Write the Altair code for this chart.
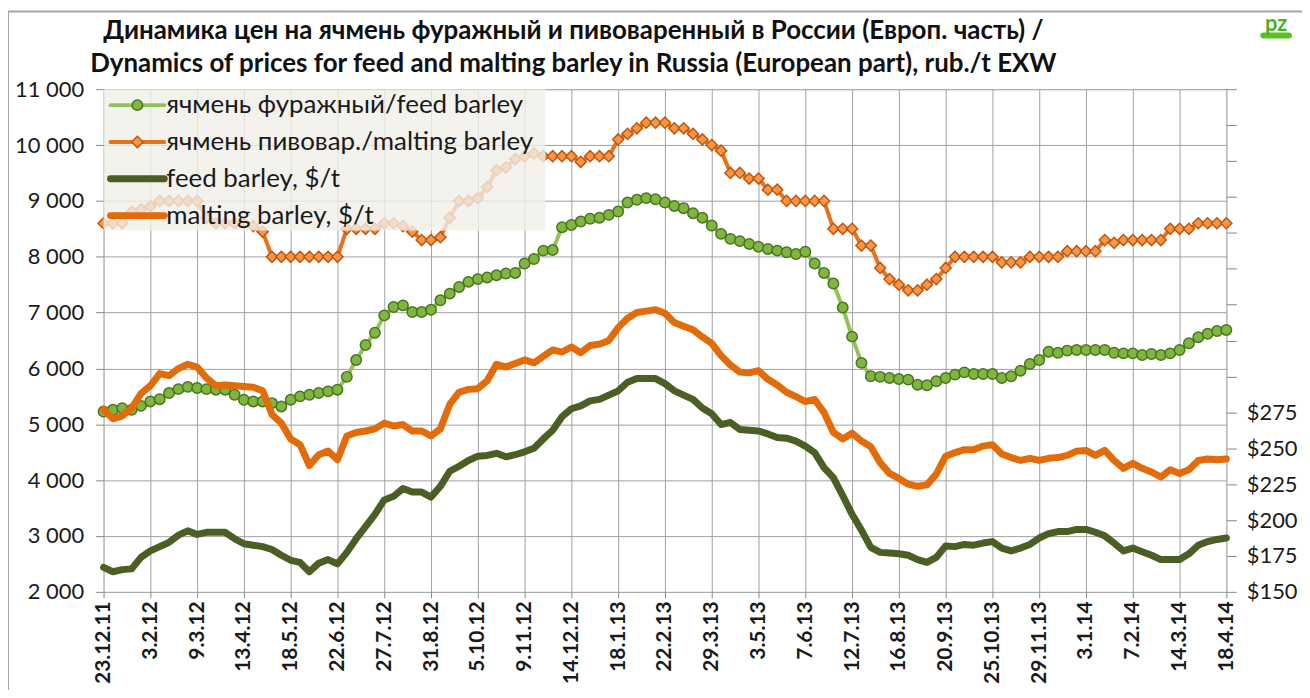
import altair as alt
import pandas as pd

# ---------------- data ----------------
tick_labels = ["23.12.11", "3.2.12", "9.3.12", "13.4.12", "18.5.12", "22.6.12",
               "27.7.12", "31.8.12", "5.10.12", "9.11.12", "14.12.12", "18.1.13",
               "22.2.13", "29.3.13", "3.5.13", "7.6.13", "12.7.13", "16.8.13",
               "20.9.13", "25.10.13", "29.11.13", "3.1.14", "7.2.14", "14.3.14",
               "18.4.14"]

feed_rub = [5230, 5260, 5290, 5260, 5330, 5410, 5450, 5560, 5630, 5670,
            5650, 5630, 5620, 5620, 5530, 5440, 5410, 5410, 5380, 5320,
            5440, 5500, 5530, 5560, 5590, 5620, 5850, 6150, 6420, 6640,
            6950, 7100, 7130, 7010, 7010, 7050, 7220, 7340, 7460, 7550,
            7600, 7630, 7670, 7700, 7710, 7880, 7960, 8110, 8120, 8530,
            8570, 8630, 8680, 8700, 8750, 8810, 8970, 9020, 9050, 9030,
            8970, 8910, 8870, 8780, 8700, 8560, 8410, 8320, 8280, 8230,
            8180, 8140, 8110, 8080, 8050, 8090, 7880, 7710, 7520, 7090,
            6570, 6100, 5860, 5850, 5830, 5810, 5800, 5710, 5700, 5770,
            5830, 5890, 5930, 5900, 5900, 5900, 5830, 5860, 5960, 6080,
            6150, 6300, 6280, 6320, 6330, 6330, 6330, 6330, 6280, 6270,
            6270, 6240, 6260, 6240, 6270, 6330, 6450, 6560, 6620, 6670,
            6690]

malting_rub = [8600, 8600, 8600, 8800, 8850, 8900, 9000, 9000, 9000, 9000,
               9000, 8700, 8600, 8600, 8600, 8600, 8550, 8450, 8000, 8000,
               8000, 8000, 8000, 8000, 8000, 8000, 8500, 8500, 8500, 8500,
               8600, 8600, 8550, 8450, 8300, 8300, 8350, 8700, 9000, 9000,
               9050, 9250, 9550, 9600, 9750, 9800, 9850, 9800, 9800, 9800,
               9800, 9700, 9800, 9800, 9800, 10100, 10200, 10300, 10400, 10400,
               10400, 10300, 10300, 10200, 10100, 10000, 9900, 9500, 9500, 9400,
               9400, 9200, 9200, 9000, 9000, 9000, 9000, 9000, 8500, 8500,
               8500, 8200, 8200, 7800, 7600, 7500, 7400, 7400, 7500, 7600,
               7800, 8000, 8000, 8000, 8000, 8000, 7900, 7900, 7900, 8000,
               8000, 8000, 8000, 8100, 8100, 8100, 8100, 8300, 8250, 8300,
               8300, 8300, 8300, 8300, 8500, 8500, 8500, 8600, 8600, 8600,
               8600]

feed_usd = [167, 164, 165.5, 166, 174, 178.5, 181.5, 184.5, 189.5, 192.5,
            190, 191.5, 191.5, 191.5, 187, 183.5, 182.5, 181.5, 179.5, 175.5,
            172, 170.5, 164, 170, 172.5, 169.5, 177.5, 187, 195.5, 204,
            214, 216.5, 222, 219.5, 219.5, 216, 223.5, 234, 237.5, 241.5,
            244.5, 245, 246.5, 244, 245.5, 247.5, 250, 256.5, 262.5, 272,
            277.5, 279.5, 283, 284, 287, 290, 296, 298.5, 298.5, 298.5,
            295, 290, 287, 284, 278, 274, 266.5, 268, 263, 262.5,
            262, 260, 257.5, 257, 255, 251.5, 247, 236.5, 229.5, 217,
            204, 193, 181, 177.5, 177, 176.5, 175.5, 172.5, 170.5, 174,
            182, 181.5, 183, 182.5, 184, 185, 180.5, 178.5, 180.5, 183,
            187.5, 190.5, 192, 192, 193.5, 193.5, 191.5, 189, 184, 178.5,
            180.5, 178, 175.5, 172.5, 172.5, 172.5, 176.5, 182.5, 185, 186.5,
            187.5]

malting_usd = [277, 270.5, 272.5, 278, 288, 293.5, 302, 300.5, 305.5, 308.5,
               306.5, 299, 293.5, 294, 293.5, 293, 292.5, 290, 273.5, 267.5,
               256.5, 252.5, 238, 245.5, 248, 242, 258.5, 261, 262, 263.5,
               267.5, 265.5, 266.5, 262, 262, 258.5, 263.5, 280.5, 289, 291,
               291.5, 297, 308.5, 306.5, 309, 311.5, 309.5, 314, 318.5, 317,
               320.5, 316.5, 321.5, 322.5, 325, 334, 340.5, 344.5, 345.5, 346.5,
               344, 337.5, 335, 332.5, 327.5, 323, 314.5, 308, 303, 302.5,
               304, 298, 294, 289, 286, 282.5, 284, 275, 261, 256.5,
               260.5, 255, 251, 240, 232.5, 229, 225, 223.5, 224.5, 232,
               244.5, 247, 249, 249, 251.5, 252.5, 246, 243.5, 241.5, 243,
               241.5, 243, 243.5, 245, 248, 248.5, 245, 248.5, 241.5, 236,
               239.5, 236, 233.5, 230, 235, 232.5, 235, 241.5, 242.5, 242,
               242.5]

legend_labels = ["ячмень фуражный/feed barley",
                 "ячмень пивовар./malting barley",
                 "feed barley, $/t",
                 "malting barley, $/t"]

title_lines = ["Динамика цен на ячмень фуражный и пивоваренный в России (Европ. часть) /",
               "Dynamics of prices for feed and malting barley in Russia (European part), rub./t EXW"]

week = list(range(len(feed_rub)))
df = pd.DataFrame({"week": week, "feed_rub": feed_rub, "malting_rub": malting_rub,
                   "feed_usd": feed_usd, "malting_usd": malting_usd})
one = pd.DataFrame({"a": [0]})

# ---------------- style ----------------
W, H = 1128, 505
FONT = "Lato"
GRID = "#a0a0a0"
TXT = "#1a1a1a"
C_FEED_LINE = "#92c35a"
C_FEED_FILL = "#80b640"
C_FEED_STROKE = "#4a7520"
C_MALT_LINE = "#e8711a"
C_MALT_FILL = "#f79646"
C_MALT_STROKE = "#c0560e"
C_FEED_USD = "#4b5e24"
C_MALT_USD = "#e26b0a"

n_last = len(feed_rub) - 1
x_scale = alt.Scale(domain=[0, n_last], nice=False, zero=False)
label_js = "[" + ",".join("'%s'" % s for s in tick_labels) + "][round(datum.value / 5)]"

x_axis = alt.Axis(values=list(range(0, n_last + 1, 5)), labelExpr=label_js, labelAngle=-90,
                  labelFontSize=21, labelFontWeight="bold", labelFont=FONT, labelColor=TXT,
                  grid=True, gridColor=GRID, gridWidth=1, tickSize=6, tickColor="#888888",
                  domain=False, title=None, labelPadding=3, labelOverlap=False, labelFlush=False)
x_enc = alt.X("week:Q", scale=x_scale, axis=x_axis)

rub_scale = alt.Scale(domain=[2000, 11000], nice=False, zero=False)
usd_scale = alt.Scale(domain=[150, 500], nice=False, zero=False)

left_axis = alt.Axis(values=list(range(2000, 11001, 1000)),
                     labelExpr="replace(format(datum.value, ','), ',', ' ')",
                     labelFontSize=22, labelFont=FONT, labelColor=TXT, grid=True,
                     gridColor=GRID, gridWidth=1, tickSize=8, tickColor="#888888",
                     domain=False, title=None, labelPadding=12)
right_axis = alt.Axis(orient="right", values=list(range(150, 501, 25)),
                      labelExpr="datum.value <= 275 ? '$' + datum.value : ''",
                      labelFontSize=22, labelFont=FONT, labelColor=TXT, grid=False,
                      tickSize=10, tickColor="#888888", domain=False,
                      title=None, labelPadding=10)

base = alt.Chart(df)

feed_line = base.mark_line(
    color=C_FEED_LINE, strokeWidth=4, strokeJoin="round",
    point=alt.OverlayMarkDef(shape="circle", size=110, filled=True, fill=C_FEED_FILL,
                             stroke=C_FEED_STROKE, strokeWidth=1.5, opacity=1)
).encode(x=x_enc, y=alt.Y("feed_rub:Q", scale=rub_scale, axis=left_axis))

malt_line = base.mark_line(
    color=C_MALT_LINE, strokeWidth=4, strokeJoin="round",
    point=alt.OverlayMarkDef(shape="diamond", size=125, filled=True, fill=C_MALT_FILL,
                             stroke=C_MALT_STROKE, strokeWidth=1.5, opacity=1)
).encode(x=x_enc, y=alt.Y("malting_rub:Q", scale=rub_scale, axis=None))

feed_usd_line = base.mark_line(
    color=C_FEED_USD, strokeWidth=7, strokeJoin="round", strokeCap="round"
).encode(x=x_enc, y=alt.Y("feed_usd:Q", scale=usd_scale, axis=right_axis))

malt_usd_line = base.mark_line(
    color=C_MALT_USD, strokeWidth=7, strokeJoin="round", strokeCap="round"
).encode(x=x_enc, y=alt.Y("malting_usd:Q", scale=usd_scale, axis=None))

# ---------------- frame, legend, title, logo ----------------
frame = alt.Chart(one).mark_rect(fillOpacity=0, fill="white", stroke="#a6a6a6", strokeWidth=2).encode(
    x=alt.value(-96), x2=alt.value(1260), y=alt.value(-78), y2=alt.value(660))

legend_box = alt.Chart(one).mark_rect(fill="#f0efe9", opacity=0.8).encode(
    x=alt.value(0), x2=alt.value(444), y=alt.value(0), y2=alt.value(142))

ly = [16, 53, 90, 127]
leg_layers = []
leg_layers.append(alt.Chart(one).mark_rule(color=C_FEED_LINE, strokeWidth=4, strokeCap="round").encode(
    x=alt.value(7), x2=alt.value(61), y=alt.value(ly[0])))
leg_layers.append(alt.Chart(one).mark_point(shape="circle", size=110, filled=True, fill=C_FEED_FILL,
                                            stroke=C_FEED_STROKE, strokeWidth=1.5, opacity=1).encode(
    x=alt.value(34), y=alt.value(ly[0])))
leg_layers.append(alt.Chart(one).mark_rule(color=C_MALT_LINE, strokeWidth=4, strokeCap="round").encode(
    x=alt.value(7), x2=alt.value(61), y=alt.value(ly[1])))
leg_layers.append(alt.Chart(one).mark_point(shape="diamond", size=130, filled=True, fill=C_MALT_FILL,
                                            stroke=C_MALT_STROKE, strokeWidth=1.5, opacity=1).encode(
    x=alt.value(34), y=alt.value(ly[1])))
leg_layers.append(alt.Chart(one).mark_rule(color=C_FEED_USD, strokeWidth=7, strokeCap="round").encode(
    x=alt.value(7), x2=alt.value(61), y=alt.value(ly[2])))
leg_layers.append(alt.Chart(one).mark_rule(color=C_MALT_USD, strokeWidth=7, strokeCap="round").encode(
    x=alt.value(7), x2=alt.value(61), y=alt.value(ly[3])))
for lab, yy in zip(legend_labels, ly):
    leg_layers.append(alt.Chart(one).mark_text(align="left", baseline="middle", fontSize=26,
                                               font=FONT, color=TXT).encode(
        x=alt.value(63), y=alt.value(yy), text=alt.value(lab)))

title_layers = []
for line, yy in zip(title_lines, [-50, -17]):
    title_layers.append(alt.Chart(one).mark_text(align="center", baseline="alphabetic", fontSize=26,
                                                 fontWeight="bold", font=FONT, color="#111111").encode(
        x=alt.value(472), y=alt.value(yy), text=alt.value(line)))

logo_box = alt.Chart(one).mark_rect(fill="#5cbf24", cornerRadius=3).encode(
    x=alt.value(1162), x2=alt.value(1194), y=alt.value(-57), y2=alt.value(-51))
logo_text = alt.Chart(one).mark_text(align="center", baseline="alphabetic", fontSize=22,
                                     fontWeight="bold", font=FONT, color="#4caf1f").encode(
    x=alt.value(1178), y=alt.value(-58), text=alt.value("pz"))

chart = alt.layer(
    frame, feed_line, malt_line, feed_usd_line, malt_usd_line, legend_box,
    *leg_layers, *title_layers, logo_box, logo_text
).resolve_scale(y="independent").properties(
    width=W, height=H,
    padding={"left": 96, "top": 80, "right": 76, "bottom": 97},
    autosize=alt.AutoSizeParams(type="none"),
    background="white",
).configure_view(stroke="transparent").configure(font=FONT)

chart.save("out.html", embed_options={"renderer": "svg", "actions": False})
